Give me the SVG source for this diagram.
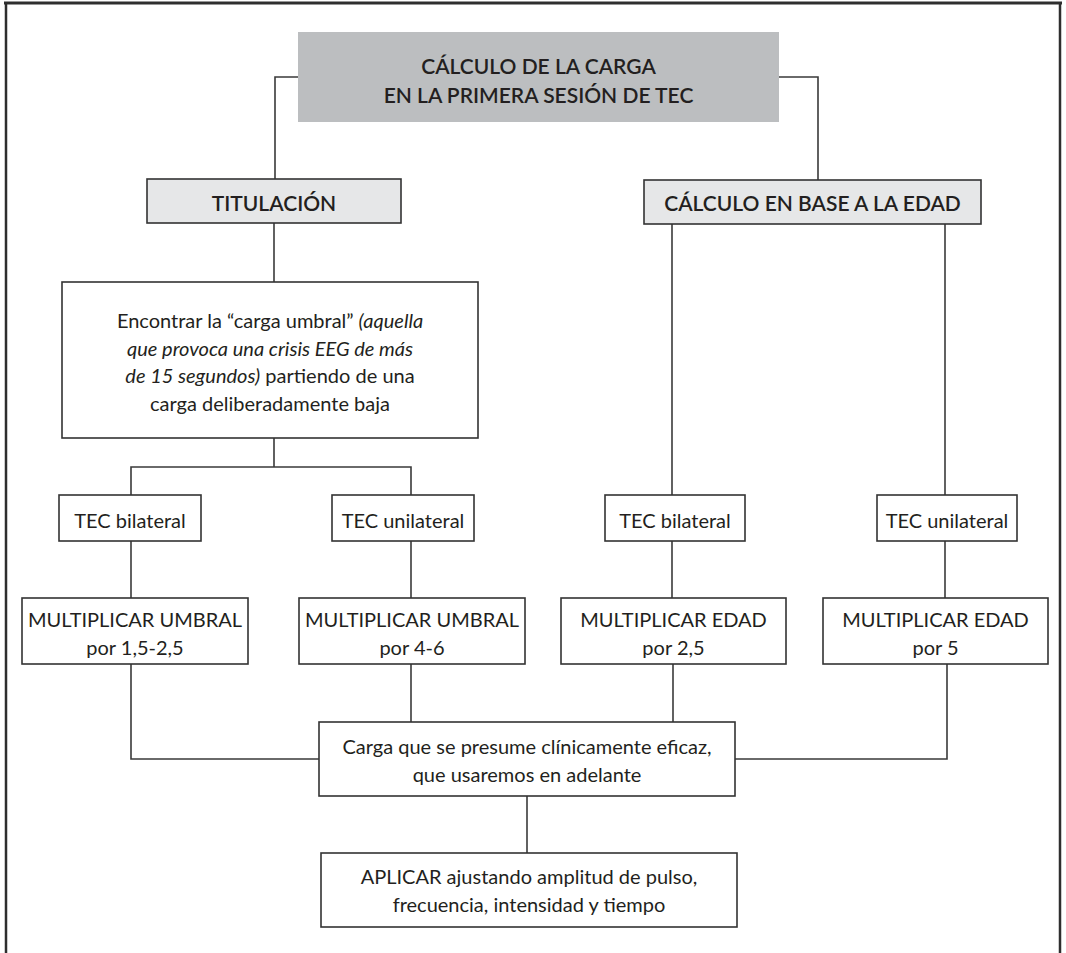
<svg xmlns="http://www.w3.org/2000/svg" width="1066" height="953" viewBox="0 0 1066 953">
  <style>
    .box { fill: #ffffff; stroke: #333333; stroke-width: 1.6; }
    .head { fill: #e6e7e8; stroke: #333333; stroke-width: 1.6; }
    .title { fill: #bcbec0; stroke: none; }
    .conn { fill: none; stroke: #3a3a3a; stroke-width: 1.6; }
    .frame { fill: none; stroke: #2e2e2e; }
    text { font-family: Lato, "Open Sans", "Liberation Sans", sans-serif; fill: #231f20; text-anchor: middle; }
    .t { font-size: 20px; font-weight: 400; }
    .h { font-size: 21px; font-weight: 600; }
    .i { font-style: italic; }
  </style>
  <rect x="0" y="0" width="1066" height="953" fill="#ffffff"/>
  <g id="frame">
    <line class="frame" x1="4" y1="3" x2="1062" y2="3" stroke-width="3"/>
    <line class="frame" x1="6" y1="3" x2="6" y2="953" stroke-width="2.5"/>
    <line class="frame" x1="1060" y1="3" x2="1060" y2="953" stroke-width="2.5"/>
  </g>
  <g id="connectors">
    <path class="conn" d="M298,77 H275 V179"/>
    <path class="conn" d="M779,77 H818 V180"/>
    <path class="conn" d="M274,223 V282"/>
    <path class="conn" d="M274,438 V467 M131,495 V467 H411 V495"/>
    <path class="conn" d="M672,224 V495"/>
    <path class="conn" d="M945,224 V495"/>
    <path class="conn" d="M131,541 V598"/>
    <path class="conn" d="M411,541 V598"/>
    <path class="conn" d="M672,541 V598"/>
    <path class="conn" d="M945,541 V598"/>
    <path class="conn" d="M131,664 V759 H319"/>
    <path class="conn" d="M411,664 V722"/>
    <path class="conn" d="M673,664 V722"/>
    <path class="conn" d="M947,664 V759 H735"/>
    <path class="conn" d="M527,796 V853"/>
  </g>
  <g id="n-title">
    <rect class="title" x="298" y="32" width="481" height="90"/>
    <text class="h" x="538.5" y="74">CÁLCULO DE LA CARGA</text>
    <text class="h" x="538.5" y="103">EN LA PRIMERA SESIÓN DE TEC</text>
  </g>
  <g id="n-titulacion">
    <rect class="head" x="147" y="179" width="254" height="44"/>
    <text class="h" x="274" y="211">TITULACIÓN</text>
  </g>
  <g id="n-edad">
    <rect class="head" x="644" y="180" width="337" height="44"/>
    <text class="h" x="812.5" y="211">CÁLCULO EN BASE A LA EDAD</text>
  </g>
  <g id="n-umbral">
    <rect class="box" x="62" y="282" width="416" height="156"/>
    <text class="t" x="270" y="328">Encontrar la “carga umbral” <tspan class="i">(aquella</tspan></text>
    <text class="t i" x="270" y="356">que provoca una crisis EEG de más</text>
    <text class="t" x="270" y="383"><tspan class="i">de 15 segundos)</tspan> partiendo de una</text>
    <text class="t" x="270" y="411">carga deliberadamente baja</text>
  </g>
  <g id="n-bil1">
    <rect class="box" x="59" y="495" width="142" height="46"/>
    <text class="t" x="130" y="528">TEC bilateral</text>
  </g>
  <g id="n-uni1">
    <rect class="box" x="332" y="495" width="142" height="46"/>
    <text class="t" x="403" y="528">TEC unilateral</text>
  </g>
  <g id="n-bil2">
    <rect class="box" x="605" y="495" width="140" height="46"/>
    <text class="t" x="675" y="528">TEC bilateral</text>
  </g>
  <g id="n-uni2">
    <rect class="box" x="877" y="495" width="140" height="46"/>
    <text class="t" x="947" y="528">TEC unilateral</text>
  </g>
  <g id="n-mult1">
    <rect class="box" x="22" y="598" width="226" height="66"/>
    <text class="t" x="135" y="627">MULTIPLICAR UMBRAL</text>
    <text class="t" x="135" y="655">por 1,5-2,5</text>
  </g>
  <g id="n-mult2">
    <rect class="box" x="299" y="598" width="226" height="66"/>
    <text class="t" x="412" y="627">MULTIPLICAR UMBRAL</text>
    <text class="t" x="412" y="655">por 4-6</text>
  </g>
  <g id="n-mult3">
    <rect class="box" x="561" y="598" width="225" height="66"/>
    <text class="t" x="673.5" y="627">MULTIPLICAR EDAD</text>
    <text class="t" x="673.5" y="655">por 2,5</text>
  </g>
  <g id="n-mult4">
    <rect class="box" x="823" y="598" width="225" height="66"/>
    <text class="t" x="935.5" y="627">MULTIPLICAR EDAD</text>
    <text class="t" x="935.5" y="655">por 5</text>
  </g>
  <g id="n-carga">
    <rect class="box" x="319" y="722" width="416" height="74"/>
    <text class="t" x="527" y="754">Carga que se presume clínicamente eficaz,</text>
    <text class="t" x="527" y="782">que usaremos en adelante</text>
  </g>
  <g id="n-aplicar">
    <rect class="box" x="321" y="853" width="416" height="74"/>
    <text class="t" x="529" y="884">APLICAR ajustando amplitud de pulso,</text>
    <text class="t" x="529" y="912">frecuencia, intensidad y tiempo</text>
  </g>
</svg>
